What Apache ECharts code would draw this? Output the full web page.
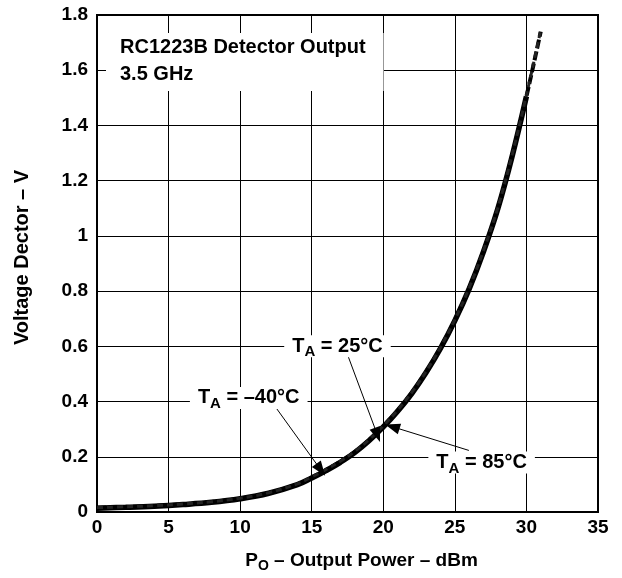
<!DOCTYPE html>
<html>
<head>
<meta charset="utf-8">
<title>RC1223B Detector Output</title>
<script src="https://cdn.jsdelivr.net/npm/echarts@6/dist/echarts.min.js"></script>
<style>
    html, body { margin: 0; padding: 0; background: #fff; }
    #main { width: 622px; height: 578px; }
</style>
</head>
<body>
<div id="main"></div>
<script type="text/javascript">
    // data: output power (dBm) -> detector voltage (V)
    var powerM40 = [0, 2, 4, 6, 8, 10, 12, 14, 15, 16, 17, 18, 19, 20, 21, 22, 23, 24, 25, 26, 27, 28, 29, 30];
    var voltM40  = [0.014, 0.017, 0.021, 0.027, 0.035, 0.048, 0.068, 0.099, 0.123, 0.150, 0.180, 0.215, 0.258, 0.308, 0.365, 0.430, 0.506, 0.593, 0.693, 0.808, 0.943, 1.098, 1.288, 1.505];
    var power25  = [0, 2, 4, 6, 8, 10, 12, 14, 15, 16, 17, 18, 19, 20, 21, 22, 23, 24, 25, 26, 27, 28, 29, 30, 31];
    var volt25   = [0.015, 0.018, 0.022, 0.028, 0.036, 0.049, 0.069, 0.100, 0.125, 0.152, 0.182, 0.217, 0.260, 0.310, 0.367, 0.432, 0.508, 0.595, 0.695, 0.810, 0.945, 1.100, 1.290, 1.505, 1.740];
    var power85  = [0, 2, 4, 6, 8, 10, 12, 14, 15, 16, 17, 18, 19, 20, 21, 22, 23, 24, 25, 26, 27, 28, 29, 30, 31];
    var volt85   = [0.016, 0.019, 0.023, 0.029, 0.037, 0.050, 0.070, 0.102, 0.127, 0.154, 0.184, 0.219, 0.262, 0.312, 0.369, 0.434, 0.510, 0.597, 0.697, 0.812, 0.947, 1.102, 1.293, 1.510, 1.745];

    // arrows: [label end, tip on curve] in data units
    var arrowM40 = [[12.5, 0.378], [15.63, 0.153]];
    var arrow25  = [[17.5, 0.57], [19.59, 0.279]];
    var arrow85  = [[25.98, 0.223], [20.63, 0.309]];
    // label centres in data units
    var labelM40 = [10.6, 0.413];
    var label25  = [16.8, 0.600];
    var label85  = [26.87, 0.179];

    function pairs(xs, ys) {
        var out = [];
        for (var i = 0; i < xs.length; i++) out.push([xs[i], ys[i]]);
        return out;
    }

    var font = 'Liberation Sans, Arial, Helvetica, sans-serif';
    var richT = {
        t: {fontFamily: font, fontWeight: 'bold', fontSize: 20, color: '#000', lineHeight: 22},
        s: {fontFamily: font, fontWeight: 'bold', fontSize: 15, color: '#000', lineHeight: 15, padding: [12, 0, 0, 0]}
    };

    function tempLabel(pos, text) {
        return {
            coord: pos,
            symbol: 'rect',
            symbolSize: 0,
            label: {
                show: true,
                position: 'inside',
                formatter: '{t|T}{s|A}{t| = ' + text + '}',
                backgroundColor: '#fff',
                padding: [0, 8, 0, 8],
                rich: richT
            }
        };
    }

    function arrow(a) {
        return [{coord: a[0], symbol: 'none'}, {coord: a[1], symbol: 'triangle'}];
    }

    var myChart = echarts.init(document.getElementById('main'));
    myChart.setOption({
        animation: false,
        backgroundColor: '#fff',
        title: {
            text: 'RC1223B Detector Output\n3.5 GHz',
            left: 106,
            top: 33,
            backgroundColor: '#fff',
            padding: [1, 18, 3, 14],
            textStyle: {fontFamily: font, fontWeight: 'bold', fontSize: 20, color: '#000', lineHeight: 27}
        },
        grid: {
            left: 97,
            right: 24,
            top: 15,
            bottom: 62,
            show: true,
            borderColor: '#000',
            borderWidth: 2
        },
        xAxis: {
            type: 'value',
            min: 0,
            max: 35,
            interval: 5,
            name: '{t|P}{s|O}{t| – Output Power – dBm}',
            nameLocation: 'middle',
            nameGap: 38,
            nameTextStyle: {
                padding: [0, 0, 0, 28],
                rich: {
                    t: {fontFamily: font, fontWeight: 'bold', fontSize: 19, color: '#000', lineHeight: 21},
                    s: {fontFamily: font, fontWeight: 'bold', fontSize: 14, color: '#000', lineHeight: 14, padding: [11, 0, 0, 0]}
                }
            },
            axisLine: {lineStyle: {color: '#000', width: 2}},
            axisTick: {show: false},
            axisLabel: {color: '#000', fontFamily: font, fontWeight: 'bold', fontSize: 19, margin: 6},
            splitLine: {lineStyle: {color: '#000', width: 1}}
        },
        yAxis: {
            type: 'value',
            min: 0,
            max: 1.8,
            interval: 0.2,
            name: 'Voltage Dector – V',
            nameLocation: 'middle',
            nameGap: 65,
            nameTextStyle: {color: '#000', fontFamily: font, fontWeight: 'bold', fontSize: 20, padding: [0, 0, 0, 12]},
            axisLine: {lineStyle: {color: '#000', width: 2}},
            axisTick: {show: false},
            axisLabel: {color: '#000', fontFamily: font, fontWeight: 'bold', fontSize: 19, margin: 9},
            splitLine: {lineStyle: {color: '#000', width: 1}}
        },
        series: [
            {
                name: 'TA = -40°C',
                type: 'line',
                smooth: 0.4,
                showSymbol: false,
                data: pairs(powerM40, voltM40),
                lineStyle: {color: '#000', width: 5.5},
                markLine: {
                    silent: true,
                    symbolSize: [11, 15],
                    label: {show: false},
                    lineStyle: {color: '#000', width: 1, type: 'solid'},
                    data: [arrow(arrowM40), arrow(arrow25), arrow(arrow85)]
                },
                markPoint: {
                    silent: true,
                    data: [tempLabel(labelM40, '–40°C'), tempLabel(label25, '25°C'), tempLabel(label85, '85°C')]
                }
            },
            {
                name: 'TA = 25°C',
                type: 'line',
                smooth: 0.4,
                showSymbol: false,
                data: pairs(power25, volt25),
                lineStyle: {color: '#000', width: 4, type: [9, 3]}
            },
            {
                name: 'TA = 85°C',
                type: 'line',
                smooth: 0.4,
                showSymbol: false,
                data: pairs(power85, volt85),
                lineStyle: {color: '#222', width: 3, type: [6, 4]}
            }
        ]
    });
</script>
</body>
</html>
